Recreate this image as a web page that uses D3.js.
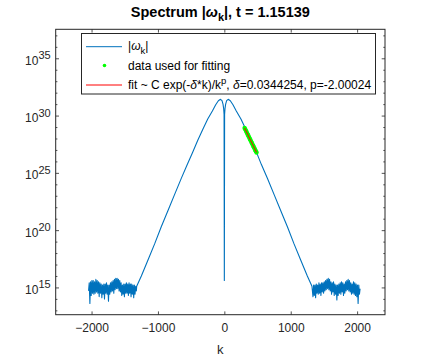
<!DOCTYPE html>
<html>
<head>
<meta charset="utf-8">
<script src="https://cdn.jsdelivr.net/npm/d3@7"></script>
<style>
  body { margin: 0; background: #fff; }
  text { font-family: "Liberation Sans", Arial, Helvetica, sans-serif; }
</style>
</head>
<body>
<div id="spectrum"></div>
<script>
// spectrum |w_k|, values are log10 of the amplitude

// smooth part between the two noise floors
const kSmooth = [-1320, -1250, -1150, -1050, -950, -850, -750, -650, -560, -480, -400, -320, -250, -180, -130, -90, -58, -35, -20, -10, -4,
  0, 4, 10, 20, 35, 58, 90, 130, 180, 250, 320, 400, 480, 560, 650, 750, 850, 950, 1050, 1150, 1250, 1320];
const logSmooth = [15.1, 16.0, 17.4, 18.8, 20.3, 21.7, 23.1, 24.5, 25.7, 26.75, 27.85, 28.85, 29.7, 30.4, 30.95, 31.3, 31.42, 31.3, 31.0, 30.6, 30.1,
  15.6, 30.1, 30.6, 31.0, 31.3, 31.42, 31.3, 30.95, 30.4, 29.7, 28.85, 27.85, 26.85, 25.7, 24.5, 23.1, 21.7, 20.3, 18.8, 17.4, 16.0, 15.1];

// noise floor, k = -2045 ... -1325 every 10
const logFloorLeft = [14.7, 15.4, 13.6, 15.5, 14.3, 15.6, 14.5, 15.6, 14.4, 15.5, 14.5, 15.7, 14.6, 15.6, 14.5, 15.5, 14.2, 15.4, 14.5, 15.3,
  14.1, 15.2, 14.4, 15.3, 14.0, 15.3, 14.5, 15.4, 14.4, 15.2, 13.8, 15.2, 14.4, 15.4, 14.6, 15.5, 14.7, 15.6, 14.5, 15.7,
  14.8, 15.8, 14.9, 15.8, 14.9, 15.7, 14.7, 15.6, 14.6, 15.4, 14.3, 15.2, 14.4, 15.3, 14.2, 15.3, 14.5, 15.4, 14.5, 15.3,
  14.3, 15.4, 14.5, 15.3, 14.2, 15.3, 14.4, 15.2, 14.1, 15.2, 14.4, 15.1, 14.7];

// noise floor, k = 1325 ... 2045 every 10
const logFloorRight = [14.8, 14.2, 15.2, 14.3, 15.2, 14.1, 15.3, 14.5, 15.2, 14.4, 15.4, 14.5, 15.3, 14.3, 15.4, 14.6, 15.4, 14.5, 15.5, 14.7,
  15.6, 14.8, 15.7, 14.9, 15.8, 14.8, 15.7, 14.7, 15.5, 14.4, 15.4, 14.6, 15.5, 14.3, 15.3, 14.4, 15.2, 13.9, 15.2, 14.3,
  15.3, 14.5, 15.4, 14.4, 15.5, 14.6, 15.4, 14.3, 15.3, 14.5, 15.5, 14.7, 15.6, 14.8, 15.7, 14.7, 15.6, 14.6, 15.4, 14.4,
  15.3, 14.5, 15.5, 14.4, 15.4, 14.3, 15.3, 14.2, 15.2, 13.6, 15.2, 14.4, 14.9];

// points used for the fit and the fitted curve over them
const kFitData = [305, 315, 325, 335, 345, 355, 365, 375, 385, 395, 405, 415, 425, 435, 445, 455, 465, 475, 485];
const logFitData = [28.92, 28.80, 28.68, 28.56, 28.44, 28.32, 28.20, 28.08, 27.96, 27.84, 27.72, 27.60, 27.48, 27.36, 27.24, 27.12, 27.00, 26.88, 26.78];
const kFitLine = [305, 395, 485];
const logFitLine = [28.92, 27.84, 26.78];

const xTicks = [-2000, -1000, 0, 1000, 2000];
const yMajorExp = [15, 20, 25, 30, 35];
const yMinorExp = [13, 14, 16, 17, 18, 19, 21, 22, 23, 24, 26, 27, 28, 29, 31, 32, 33, 34, 36, 37];

const titleText = { pre: "Spectrum |", greek: "ω", sub: "k", post: "|, t = 1.15139" };

// build the full line series
const leftK = d3.range(-2045, -1324, 10);
const rightK = d3.range(1325, 2046, 10);
const spectrum = []
  .concat(leftK.map((k, i) => ({ k: k, v: logFloorLeft[i] })))
  .concat(kSmooth.map((k, i) => ({ k: k, v: logSmooth[i] })))
  .concat(rightK.map((k, i) => ({ k: k, v: logFloorRight[i] })));

var W = 426, H = 359;
var margin = {top: 29.3, right: 41, bottom: 44.3, left: 55.7},
    width = W - margin.left - margin.right,
    height = H - margin.top - margin.bottom;

var axisColor = "#262626";

var root = d3.select("#spectrum")
  .append("svg")
    .attr("width", W)
    .attr("height", H)
    .style("background", "#fff");

var svg = root.append("g")
    .attr("transform", "translate(" + margin.left + "," + margin.top + ")");

var x = d3.scaleLinear()
  .domain([-2540, 2420])
  .range([0, width]);

var y = d3.scaleLog()
  .domain([Math.pow(10, 12.62), Math.pow(10, 37.53)])
  .range([height, 0]);

svg.append("clipPath").attr("id", "clip")
  .append("rect").attr("width", width).attr("height", height);

// the spectrum line
var line = d3.line()
  .x(d => x(d.k))
  .y(d => y(Math.pow(10, d.v)));

var plot = svg.append("g").attr("clip-path", "url(#clip)");

plot.append("path")
  .datum(spectrum)
  .attr("fill", "none")
  .attr("stroke", "#0072BD")
  .attr("stroke-width", 1.1)
  .attr("stroke-linejoin", "round")
  .attr("d", line);

// green points used for fitting
plot.append("g")
  .selectAll("circle")
  .data(kFitData.map((k, i) => ({ k: k, v: logFitData[i] })))
  .enter()
  .append("circle")
    .attr("cx", d => x(d.k))
    .attr("cy", d => y(Math.pow(10, d.v)))
    .attr("r", 2.2)
    .style("fill", "#00ff00");

// red fit
plot.append("path")
  .datum(kFitLine.map((k, i) => ({ k: k, v: logFitLine[i] })))
  .attr("fill", "none")
  .attr("stroke", "#ff0000")
  .attr("stroke-width", 1)
  .attr("d", line);

// axes, ticks pointing inwards like matlab
function styleAxis(g) {
  g.select(".domain").remove();
  g.selectAll(".tick line").attr("stroke", axisColor).attr("stroke-width", 0.8);
  g.selectAll(".tick text").attr("fill", axisColor).style("font-size", "12px")
    .style("font-family", '"Liberation Sans", Arial, sans-serif');
}

svg.append("g")
  .attr("transform", "translate(0," + height + ")")
  .call(d3.axisBottom(x).tickValues(xTicks).tickSizeInner(-3.3).tickSizeOuter(0).tickPadding(9)
    .tickFormat(d3.format("d")))
  .call(styleAxis);

svg.append("g")
  .call(d3.axisTop(x).tickValues(xTicks).tickSizeInner(-3.3).tickSizeOuter(0).tickFormat(""))
  .call(styleAxis);

var yMajor = yMajorExp.map(e => Math.pow(10, e));
var yMinor = yMinorExp.map(e => Math.pow(10, e));

svg.append("g")
  .call(d3.axisLeft(y).tickValues(yMajor).tickSizeInner(-3.3).tickSizeOuter(0).tickFormat(""))
  .call(styleAxis);
svg.append("g")
  .call(d3.axisLeft(y).tickValues(yMinor).tickSizeInner(-1.7).tickSizeOuter(0).tickFormat(""))
  .call(styleAxis);
svg.append("g")
  .attr("transform", "translate(" + width + ",0)")
  .call(d3.axisRight(y).tickValues(yMajor).tickSizeInner(-3.3).tickSizeOuter(0).tickFormat(""))
  .call(styleAxis);
svg.append("g")
  .attr("transform", "translate(" + width + ",0)")
  .call(d3.axisRight(y).tickValues(yMinor).tickSizeInner(-1.7).tickSizeOuter(0).tickFormat(""))
  .call(styleAxis);

// y tick labels 10^n
var yLab = svg.append("g").selectAll("text")
  .data(yMajorExp)
  .enter()
  .append("text")
    .attr("x", -5)
    .attr("y", d => y(Math.pow(10, d)) + 6.5)
    .attr("text-anchor", "end")
    .attr("fill", axisColor)
    .style("font-size", "12px");
yLab.append("tspan").text("10");
yLab.append("tspan").attr("dy", -5.5).style("font-size", "11px").text(d => d);

// axes box
svg.append("rect")
  .attr("width", width)
  .attr("height", height)
  .attr("fill", "none")
  .attr("stroke", axisColor)
  .attr("stroke-width", 1);

// x label
svg.append("text")
  .attr("x", width / 2)
  .attr("y", height + 39.5)
  .attr("text-anchor", "middle")
  .attr("fill", axisColor)
  .style("font-size", "13px")
  .text("k");

// title
var title = root.append("text")
  .attr("x", margin.left + width / 2)
  .attr("y", 17)
  .attr("text-anchor", "middle")
  .attr("fill", "#000")
  .style("font-size", "14.5px")
  .style("font-weight", "bold");
title.append("tspan").text(titleText.pre);
title.append("tspan").style("font-style", "italic").text(titleText.greek);
title.append("tspan").attr("dy", 4).style("font-size", "11px").text(titleText.sub);
title.append("tspan").attr("dy", -4).text(titleText.post);

// legend
var legend = root.append("g");
legend.append("rect")
  .attr("x", 81.5).attr("y", 33.5)
  .attr("width", 294).attr("height", 60.5)
  .attr("fill", "#fff")
  .attr("stroke", axisColor)
  .attr("stroke-width", 1);

var rows = [46.7, 65.5, 85];

legend.append("line").attr("x1", 86).attr("x2", 122).attr("y1", rows[0]).attr("y2", rows[0])
  .attr("stroke", "#0072BD").attr("stroke-width", 1);
legend.append("circle").attr("cx", 104.5).attr("cy", rows[1]).attr("r", 1.8).style("fill", "#00ff00");
legend.append("line").attr("x1", 86).attr("x2", 122).attr("y1", rows[2]).attr("y2", rows[2])
  .attr("stroke", "#ff0000").attr("stroke-width", 1);

var t1 = legend.append("text").attr("x", 128).attr("y", rows[0] + 3).style("font-size", "12px").attr("fill", "#000");
t1.append("tspan").text("|");
t1.append("tspan").style("font-style", "italic").text("ω");
t1.append("tspan").attr("dy", 4).style("font-size", "9.5px").text("k");
t1.append("tspan").attr("dy", -4).text("|");

legend.append("text").attr("x", 128).attr("y", rows[1] + 4.2).style("font-size", "12px").attr("fill", "#000")
  .text("data used for fitting");

var t3 = legend.append("text").attr("x", 128).attr("y", rows[2] + 4.2).style("font-size", "12px").attr("fill", "#000");
t3.append("tspan").text("fit ~ C exp(-");
t3.append("tspan").style("font-style", "italic").text("δ");
t3.append("tspan").text("*k)/k");
t3.append("tspan").attr("dy", -5).style("font-size", "9.5px").text("p");
t3.append("tspan").attr("dy", 5).text(", ");
t3.append("tspan").style("font-style", "italic").text("δ");
t3.append("tspan").text("=0.0344254, p=-2.00024");
</script>
</body>
</html>
